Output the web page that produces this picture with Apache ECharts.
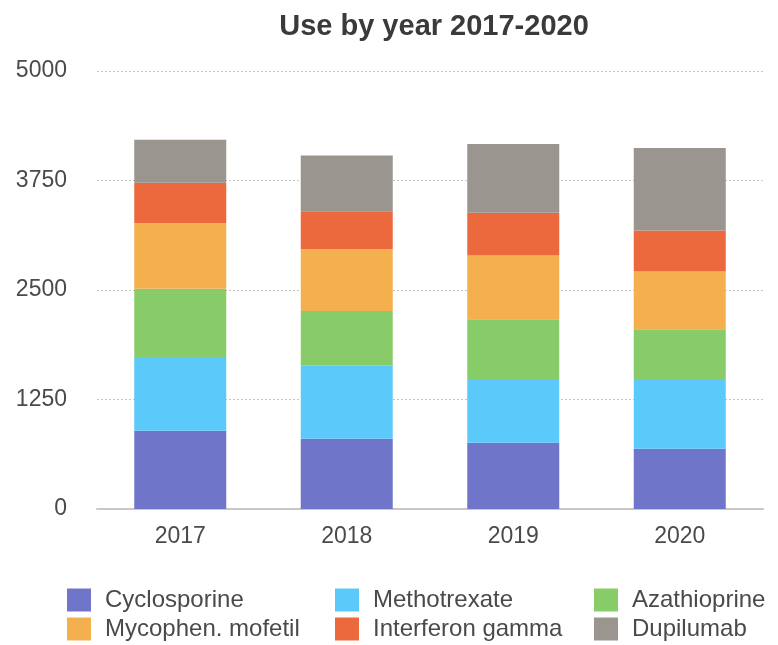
<!DOCTYPE html>
<html>
<head>
<meta charset="utf-8">
<style>
  html, body { margin: 0; padding: 0; background: #fff; }
  #chart { width: 778px; height: 645px; }
</style>
<script src="https://cdn.jsdelivr.net/npm/echarts@6/dist/echarts.min.js"></script>
</head>
<body>
<div id="chart"></div>
<script>
// Yearly use per drug, stacked
const years = ['2017', '2018', '2019', '2020'];
const cyclosporine = [892, 801, 755, 687];
const methotrexate = [843, 840, 730, 798];
const azathioprine = [780, 619, 680, 566];
const mycophenolate = [747, 706, 729, 661];
const interferonGamma = [461, 433, 487, 467];
const dupilumab = [493, 635, 786, 942];
const yTicks = [0, 1250, 2500, 3750, 5000];

const seriesDefs = [
  { name: 'Cyclosporine', data: cyclosporine, color: '#6f76c9' },
  { name: 'Methotrexate', data: methotrexate, color: '#5bcafa' },
  { name: 'Azathioprine', data: azathioprine, color: '#88cc69' },
  { name: 'Mycophen. mofetil', data: mycophenolate, color: '#f4b04f' },
  { name: 'Interferon gamma', data: interferonGamma, color: '#eb693c' },
  { name: 'Dupilumab', data: dupilumab, color: '#9a958e' }
];

const font = '"Liberation Sans", Arial, sans-serif';
const legendText = { fontFamily: font, fontSize: 24, color: '#4a4a4a', padding: [0, 0, 0, 9] };

function legendColumn(names, left) {
  return {
    orient: 'vertical', left: left, top: 588, padding: 0,
    itemWidth: 24, itemHeight: 23, itemGap: 5, icon: 'rect',
    textStyle: legendText, selectedMode: false, data: names
  };
}

const chart = echarts.init(document.getElementById('chart'));
chart.setOption({
  animation: false,
  backgroundColor: '#fff',
  title: {
    text: 'Use by year 2017-2020', left: 429, top: 7, textAlign: 'center',
    textStyle: { fontFamily: font, fontSize: 29, fontWeight: 'bold', color: '#3a3a3a' }
  },
  legend: [
    legendColumn(['Cyclosporine', 'Mycophen. mofetil'], 67),
    legendColumn(['Methotrexate', 'Interferon gamma'], 335),
    legendColumn(['Azathioprine', 'Dupilumab'], 594)
  ],
  grid: { left: 97, right: 15, top: 71, bottom: 136, containLabel: false },
  xAxis: {
    type: 'category', data: years,
    axisLine: { lineStyle: { color: '#c8c8c8', width: 2 } },
    axisTick: { show: false },
    axisLabel: { fontFamily: font, fontSize: 23, color: '#4a4a4a', margin: 16 }
  },
  yAxis: {
    type: 'value', min: yTicks[0], max: yTicks[yTicks.length - 1], interval: yTicks[1] - yTicks[0],
    axisLine: { show: false }, axisTick: { show: false },
    axisLabel: { fontFamily: font, fontSize: 23, color: '#4a4a4a', margin: 30, formatter: v => String(v) },
    splitLine: { lineStyle: { color: '#c4c4c4', type: [2, 2], width: 1 } }
  },
  series: seriesDefs.map(s => ({
    name: s.name, type: 'bar', stack: 'total', data: s.data,
    barWidth: 92, itemStyle: { color: s.color }
  }))
});
</script>
</body>
</html>
